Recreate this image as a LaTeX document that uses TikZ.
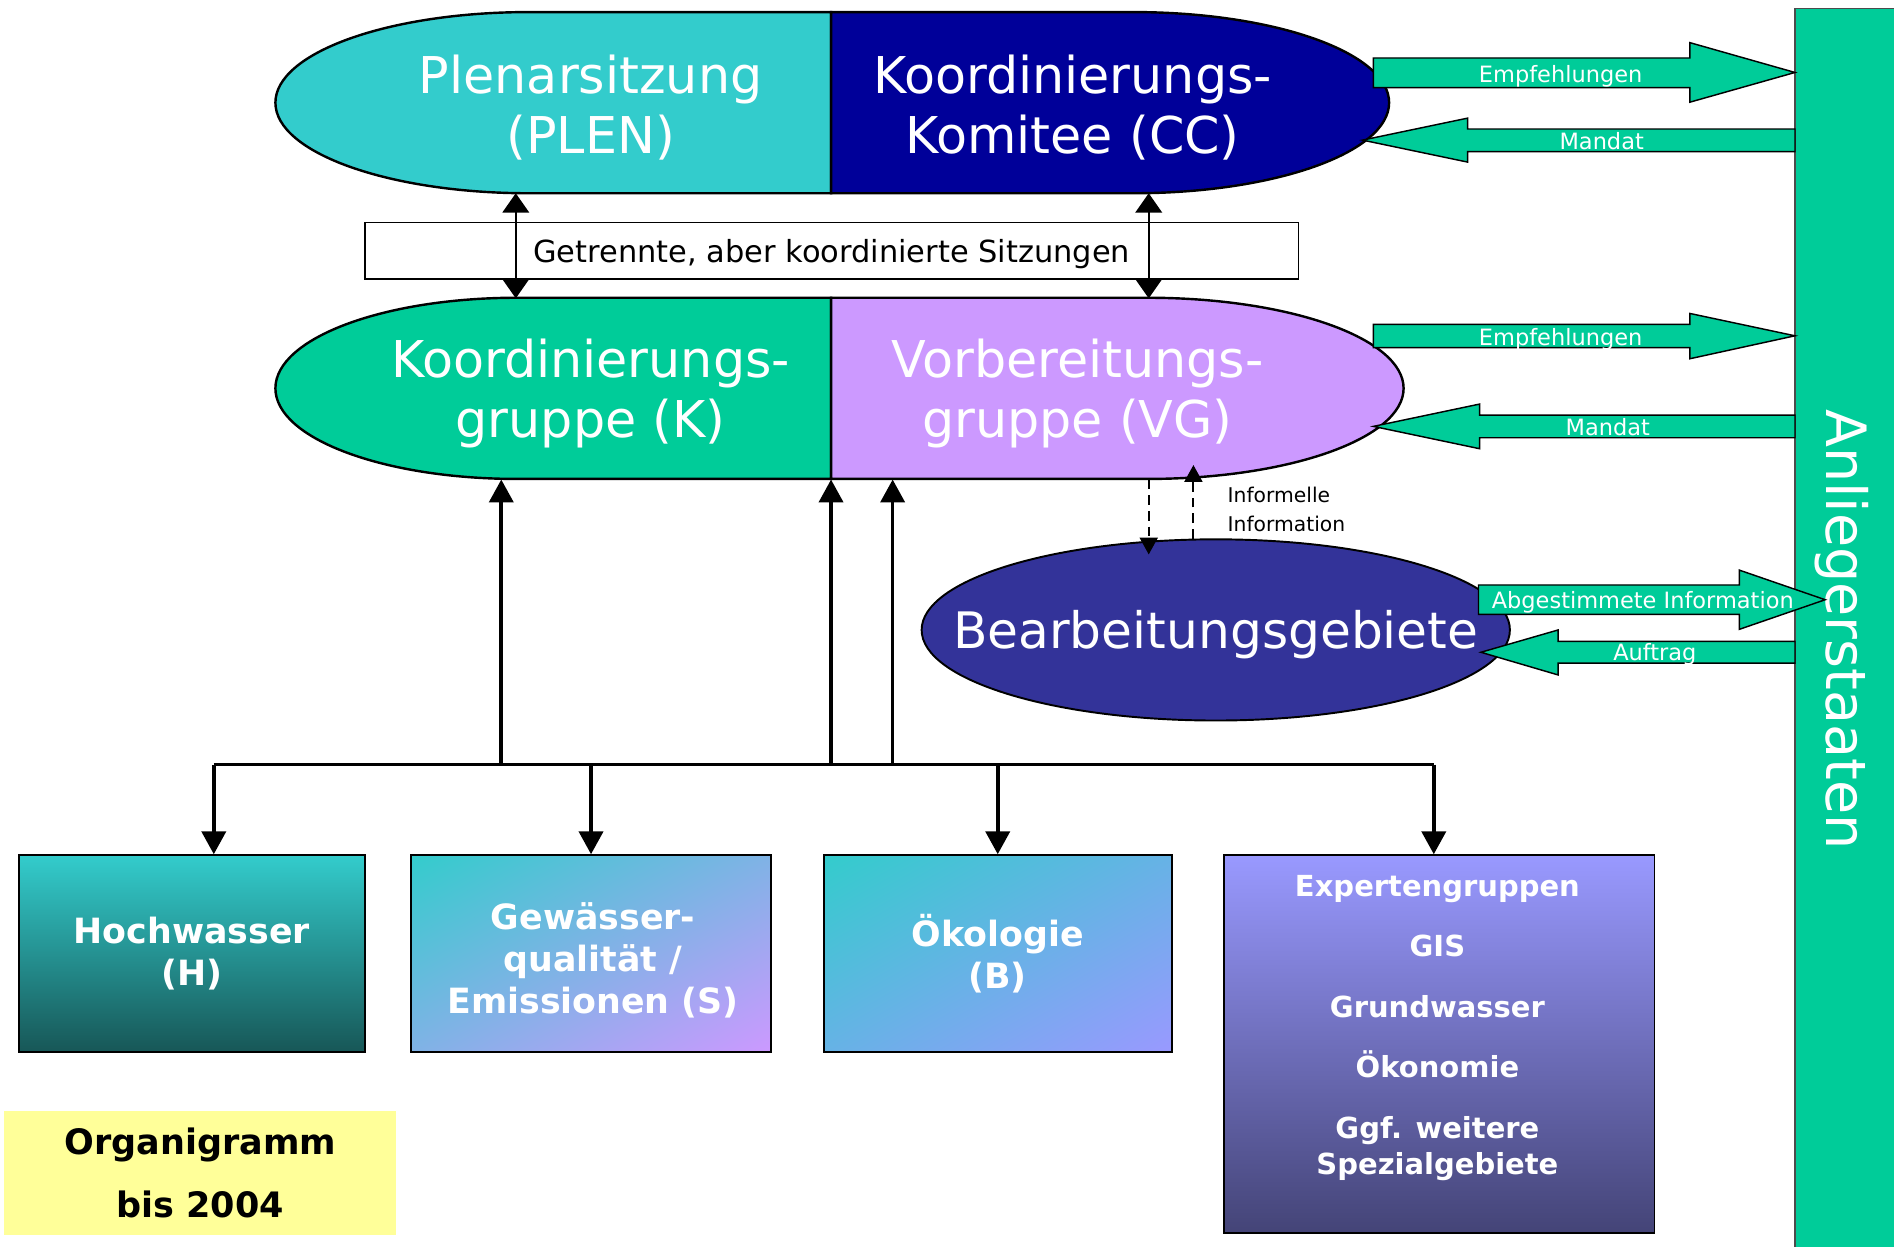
\documentclass[tikz,border=0pt]{standalone}
\usepackage{fontspec}
\setmainfont{DejaVu Sans}
\usepackage{tikz}
\usetikzlibrary{arrows.meta, shapes.geometric, shadings, positioning}

\definecolor{plencol}{HTML}{33CCCC}
\definecolor{cccol}{HTML}{000099}
\definecolor{kcol}{HTML}{00CC99}
\definecolor{vgcol}{HTML}{CC99FF}
\definecolor{bgcol}{HTML}{333399}
\definecolor{hwdark}{HTML}{175757}
\definecolor{expcol}{HTML}{9999FF}
\definecolor{expdark}{HTML}{444477}
\definecolor{orgcol}{HTML}{FFFF99}

\tikzset{
  halfbox/.style={draw=black, line width=1pt},
  bigtxt/.style={text=white, align=center, font=\fontsize{21}{25}\selectfont},
  blk/.style={fill=kcol, draw=black, line width=0.6pt},
  blktxt/.style={text=white, inner sep=0pt, font=\fontsize{9.3}{11}\selectfont},
  arr/.style={line width=1.5pt, -{Triangle[length=9.5pt,width=10pt]}},
  dbl/.style={line width=0.8pt, {Triangle[length=8pt,width=11pt]}-{Triangle[length=8pt,width=11pt]}},
  dsh/.style={line width=0.8pt, dash pattern=on 4pt off 2.5pt, -{Triangle[length=7pt,width=7.5pt]}},
  grp/.style={draw=black, line width=0.8pt, text=white, align=center, inner sep=0pt, font=\bfseries\fontsize{14.4}{17.5}\selectfont},
  grptxt/.style={text=white, align=center, inner sep=0pt, font=\bfseries\fontsize{14.4}{17.5}\selectfont},
}

\begin{document}
\begin{tikzpicture}[x=0.5pt, y=0.5pt]
        \useasboundingbox (0,0) rectangle (1568,-1032);
        \fill[white] (0,0) rectangle (1568,-1032);

        % Anliegerstaaten
        \filldraw[fill=kcol, draw=black!70, line width=0.6pt] (1486,-7) rectangle (1600,-1040);
        \node[rotate=-90, text=white, font=\fontsize{23}{28}\selectfont] (anl) at (1525,-521) {Anliegerstaaten};

        % PLEN / CC
        \filldraw[halfbox, fill=plencol] (438,-10) arc[start angle=90, end angle=270, x radius=210, y radius=75] -- (688,-160) -- (688,-10) -- cycle;
        \filldraw[halfbox, fill=cccol] (688,-10) -- (938,-10) arc[start angle=90, end angle=-90, x radius=212, y radius=75] -- (688,-160) -- cycle;
        \node[bigtxt] (plen) at (489,-89) {Plenarsitzung\\(PLEN)};
        \node[bigtxt] (cc) at (888,-89) {Koordinierungs-\\Komitee (CC)};

        % K / VG
        \filldraw[halfbox, fill=kcol] (428,-246.5) arc[start angle=90, end angle=270, x radius=200, y radius=75] -- (688,-396.5) -- (688,-246.5) -- cycle;
        \filldraw[halfbox, fill=vgcol] (688,-246.5) -- (950,-246.5) arc[start angle=90, end angle=-90, x radius=212, y radius=75] -- (688,-396.5) -- cycle;
        \node[bigtxt] (kg) at (489,-326) {Koordinierungs-\\gruppe (K)};
        \node[bigtxt] (vg) at (892,-326) {Vorbereitungs-\\gruppe (VG)};

        \node[draw, line width=0.6pt, minimum width=386.5pt, minimum height=23.5pt, inner sep=0pt, text depth=0pt, font=\fontsize{12.6}{14}\selectfont] (sitz) at (688.5,-207.5) {Getrennte, aber koordinierte Sitzungen};
        \coordinate (plenS) at (427,-160);
        \coordinate (kgN) at (427,-247);
        \coordinate (ccS) at (951,-160);
        \coordinate (vgN) at (951,-247);
        \draw[dbl] (plenS) -- (kgN);
        \draw[dbl] (ccS) -- (vgN);

        % Bearbeitungsgebiete
        \node[ellipse, draw=black, line width=0.8pt, fill=bgcol, minimum width=243.5pt, minimum height=75pt, inner sep=0pt] (bg) at (1006.5,-521.5) {};
        \node[bigtxt, font=\fontsize{20.8}{25}\selectfont] (bgtxt) at (1006.5,-525) {Bearbeitungsgebiete};
        \coordinate (vgS) at (951,-397);
        \coordinate (bgN) at (951,-459);
        \coordinate (bgN2) at (988,-446);
        \coordinate (vgS2) at (988,-385);
        \draw[dsh] (vgS) -- (bgN);
        \draw[dsh] (bgN2) -- (vgS2);
        \node[font=\fontsize{8.4}{12}\selectfont, align=left, anchor=west, inner sep=0pt] (info) at (1016,-422) {Informelle\\Information};

        % Block arrows
        \draw[blk] (1137,-48) -- (1399,-48) -- (1399,-35.3) -- (1486,-60) -- (1399,-84.6) -- (1399,-72.6) -- (1137,-72.6) -- cycle;
        \node[blktxt] (emp1) at (1292,-63) {Empfehlungen};
        \draw[blk] (1486,-106.8) -- (1215,-106.8) -- (1215,-97.8) -- (1128,-116) -- (1215,-134.2) -- (1215,-125.5) -- (1486,-125.5) -- cycle;
        \node[blktxt] (man1) at (1326,-117) {Mandat};
        \draw[blk] (1137,-268.5) -- (1399,-268.5) -- (1399,-259.5) -- (1486,-278) -- (1399,-297) -- (1399,-287.8) -- (1137,-287.8) -- cycle;
        \node[blktxt] (emp2) at (1292,-281) {Empfehlungen};
        \draw[blk] (1486,-343.6) -- (1225,-343.6) -- (1225,-334.5) -- (1137,-353) -- (1225,-371.5) -- (1225,-362.4) -- (1486,-362.4) -- cycle;
        \node[blktxt] (man2) at (1331,-354) {Mandat};
        \draw[blk] (1224,-484.3) -- (1440,-484.3) -- (1440,-472) -- (1511,-496.5) -- (1440,-521) -- (1440,-508.6) -- (1224,-508.6) -- cycle;
        \node[blktxt] (abg) at (1360,-499) {Abgestimmete Information};
        \draw[blk] (1486,-531) -- (1290,-531) -- (1290,-521.5) -- (1226,-540) -- (1290,-558.8) -- (1290,-549) -- (1486,-549) -- cycle;
        \node[blktxt] (auf) at (1370,-542) {Auftrag};

        % Groups
        \node[grp, shade, top color=plencol, bottom color=hwdark, minimum width=143.2pt, minimum height=81.3pt] (hw) at (158.8,-789.3) {Hochwasser\\(H)};
        \node[grp, shade, upper left=plencol, lower right=vgcol, upper right=plencol!50!vgcol, lower left=plencol!50!vgcol, minimum width=149.3pt, minimum height=81.3pt] (gw) at (489.3,-789.3) {};
        \node[grptxt] (gwtxt) at (491,-795) {Gewässer-\\qualität /\\Emissionen (S)};
        \node[grp, shade, upper left=plencol, lower right=expcol, upper right=plencol!50!expcol, lower left=plencol!50!expcol, minimum width=143.9pt, minimum height=81.3pt] (oek) at (826,-789.3) {Ökologie\\(B)};
        \node[draw=black, line width=0.8pt, shade, top color=expcol, bottom color=expdark, minimum width=178.3pt, minimum height=156.3pt] (exp) at (1191.4,-864.3) {};
        \node[text=white, align=center, font=\bfseries\fontsize{12}{25}\selectfont] (exptxt) at (1190,-851) {Expertengruppen\\GIS\\Grundwasser\\Ökonomie\\Ggf. weitere\\[-10pt]Spezialgebiete};

        % Bus
        \coordinate (busW) at (177,-633);
        \coordinate (busE) at (1187,-633);
        \coordinate (kgS) at (415,-397);
        \draw[line width=1.5pt] (busW) -- (busE);
        \foreach \x in {415,688,739} \draw[arr] (busW -| \x,0) -- (kgS -| \x,0);
        \draw[arr] (busW) -- (busW |- hw.north);
        \draw[arr] (busW -| gw.north) -- (gw.north);
        \draw[arr] (busW -| oek.north) -- (oek.north);
        \draw[arr] (busE) -- (busE |- exp.north);

        \node[fill=orgcol, minimum width=162.5pt, minimum height=51.5pt, align=center, font=\bfseries\fontsize{14.5}{26}\selectfont] (org) at (165.7,-971) {Organigramm\\bis 2004};
    \end{tikzpicture}
\end{document}
